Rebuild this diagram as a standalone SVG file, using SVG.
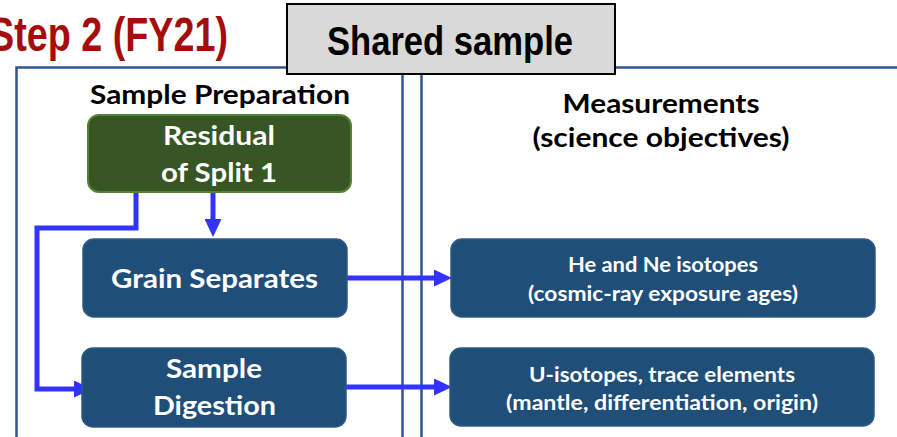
<svg xmlns="http://www.w3.org/2000/svg" width="897" height="437" viewBox="0 0 897 437">
<style>
.frame{fill:none;stroke:#2F5597;stroke-width:2.5}
.node{fill:#1F4E79;stroke:#2E5A8A;stroke-width:1.5}
.conn{fill:none;stroke:#3333FF;stroke-width:5}
.wt{fill:#FFFFFF;font-family:Lato,"Open Sans",sans-serif;font-weight:bold;text-anchor:middle}
.bt{fill:#000000;font-family:Lato,"Open Sans",sans-serif;font-weight:bold;text-anchor:middle}
.nar{font-family:"Liberation Sans",Arial,sans-serif;font-weight:bold}
</style>
<defs>
<marker id="ah" markerWidth="3.6" markerHeight="3.4" refX="0.6" refY="1.7" orient="auto" markerUnits="strokeWidth">
<path d="M0,0 L3.6,1.7 L0,3.4 Z" fill="#3333FF"/>
</marker>
</defs>
<rect width="897" height="437" fill="#FFFFFF"/>
<g id="frame">
<path class="frame" d="M16.5,437 V67.5 H290 M612,67.5 H897"/>
<path class="frame" d="M402.5,74 V437 M421.5,74 V437"/>
</g>
<g id="title">
<text class="nar" x="-11" y="51" font-size="48" fill="#A50D0D" textLength="239" lengthAdjust="spacingAndGlyphs">Step 2 (FY21)</text>
</g>
<g id="shared">
<rect x="287" y="4" width="328" height="70" fill="#D9D9D9" stroke="#000000" stroke-width="2"/>
<text class="nar" x="327" y="55" font-size="41" fill="#000000" textLength="246" lengthAdjust="spacingAndGlyphs">Shared sample</text>
</g>
<g id="headers">
<text class="bt" x="220" y="104" font-size="27" textLength="260" lengthAdjust="spacingAndGlyphs">Sample Preparation</text>
<text class="bt" x="661" y="113" font-size="27" textLength="197" lengthAdjust="spacingAndGlyphs">Measurements</text>
<text class="bt" x="661" y="147" font-size="27" textLength="257" lengthAdjust="spacingAndGlyphs">(science objectives)</text>
</g>
<g id="connectors">
<path class="conn" d="M136,192 V228 H37 V389 H77" marker-end="url(#ah)"/>
<path class="conn" d="M213,192 V222" marker-end="url(#ah)"/>
<path class="conn" d="M347,278 H437" marker-end="url(#ah)"/>
<path class="conn" d="M346,387 H437" marker-end="url(#ah)"/>
</g>
<g id="residual">
<rect x="88" y="115" width="263" height="77" rx="11" fill="#375623" stroke="#548235" stroke-width="2"/>
<text class="wt" x="219" y="145" font-size="27" textLength="112" lengthAdjust="spacingAndGlyphs">Residual</text>
<text class="wt" x="219" y="182" font-size="27" textLength="116" lengthAdjust="spacingAndGlyphs">of Split 1</text>
</g>
<g id="grain">
<rect class="node" x="83" y="239" width="264" height="78" rx="11"/>
<text class="wt" x="214.5" y="288" font-size="27" textLength="207" lengthAdjust="spacingAndGlyphs">Grain Separates</text>
</g>
<g id="digestion">
<rect class="node" x="82" y="348" width="264" height="79" rx="11"/>
<text class="wt" x="214" y="378" font-size="27" textLength="96" lengthAdjust="spacingAndGlyphs">Sample</text>
<text class="wt" x="214.5" y="415" font-size="27" textLength="123" lengthAdjust="spacingAndGlyphs">Digestion</text>
</g>
<g id="he-ne">
<rect class="node" x="451" y="239" width="424" height="78" rx="11"/>
<text class="wt" x="663" y="272" font-size="20.5" textLength="190" lengthAdjust="spacingAndGlyphs">He and Ne isotopes</text>
<text class="wt" x="663" y="301" font-size="20.5" textLength="270" lengthAdjust="spacingAndGlyphs">(cosmic-ray exposure ages)</text>
</g>
<g id="u-iso">
<rect class="node" x="450" y="348" width="424" height="78" rx="11"/>
<text class="wt" x="662" y="382" font-size="20.5" textLength="266" lengthAdjust="spacingAndGlyphs">U-isotopes, trace elements</text>
<text class="wt" x="662" y="410" font-size="20.5" textLength="312" lengthAdjust="spacingAndGlyphs">(mantle, differentiation, origin)</text>
</g>
</svg>
